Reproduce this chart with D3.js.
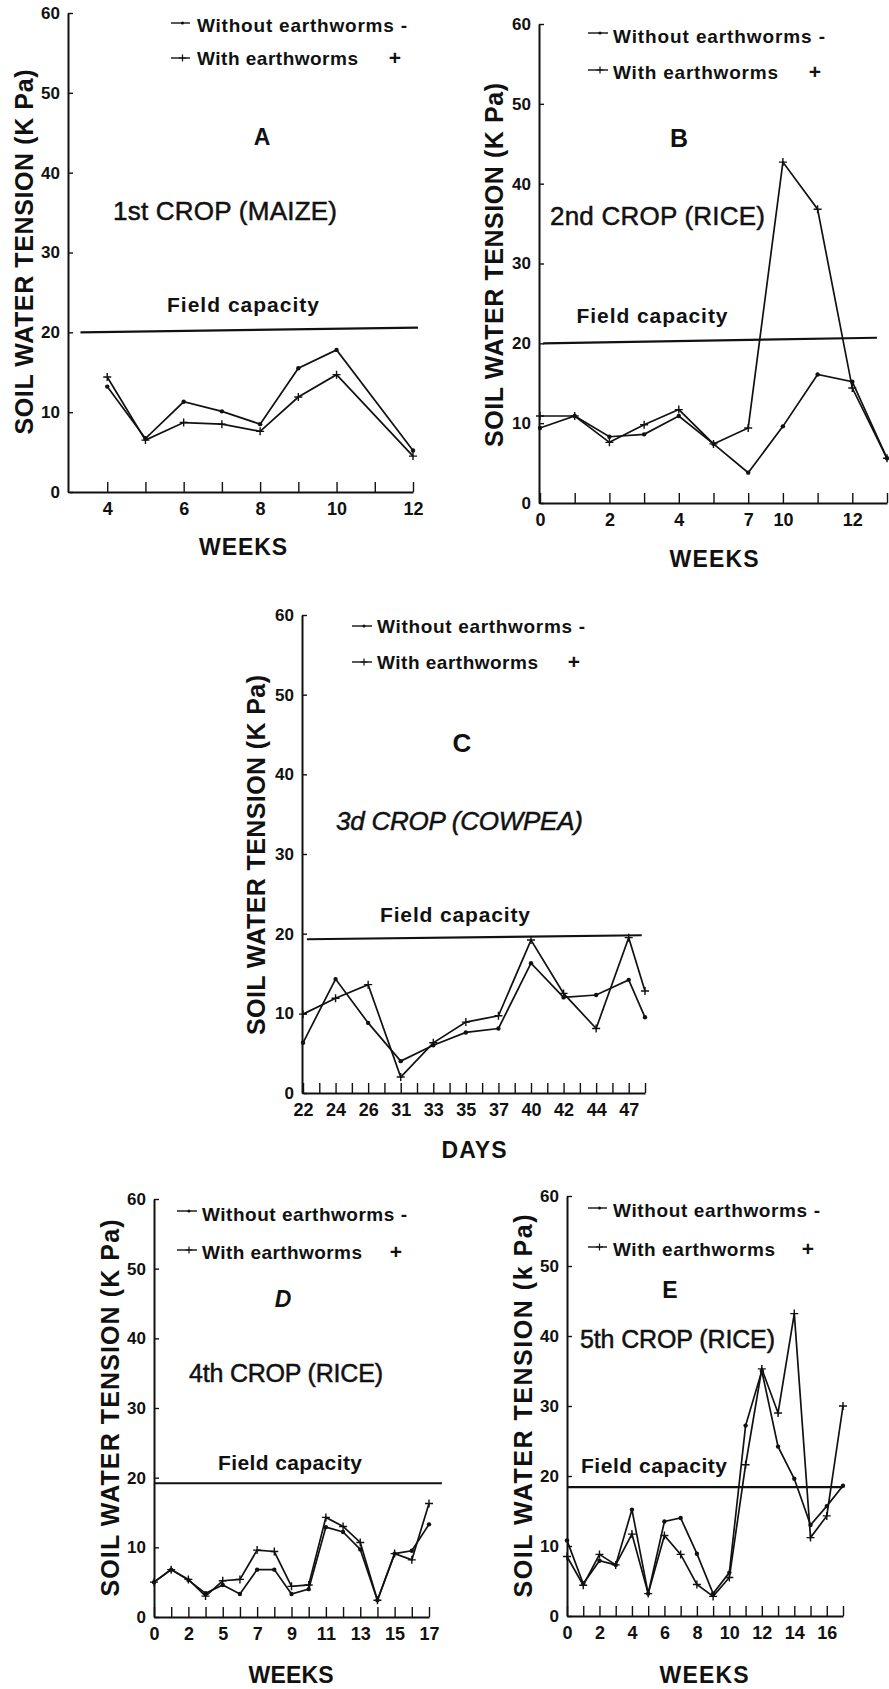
<!DOCTYPE html>
<html>
<head>
<meta charset="utf-8">
<script src="https://cdn.jsdelivr.net/npm/d3@7"></script>
<style>
  html, body { margin: 0; padding: 0; background: #fff; }
  svg { display: block; }
  text { font-family: "Liberation Sans", Arial, Helvetica, sans-serif; fill: #111; }
</style>
</head>
<body>
<svg id="chart" width="889" height="1689"></svg>
<script>
// ---------------- DATA ----------------
const yTicks = [0, 10, 20, 30, 40, 50, 60];

// Panel A – 1st crop (maize), weeks
const weeksA = [4, 5, 6, 7, 8, 9, 10, 12];
const withoutA = [13.2, 6.7, 11.3, 10.1, 8.5, 15.5, 17.8, 5.2];
const withA = [14.4, 6.5, 8.7, 8.5, 7.6, 11.9, 14.7, 4.5];
const ticksA = [4, 5, 6, 7, 8, 9, 10, 11, 12];
const tickLabelsA = ["4", "", "6", "", "8", "", "10", "", "12"];
const fieldCapA = [20.0, 20.6];
const fieldSpanA = [3.3, 12.13];

// Panel B – 2nd crop (rice), weeks (ordinal)
const weeksB = ["0", "1", "2", "3", "4", "5", "7", "10", "11", "12", "13"];
const tickLabelsB = ["0", "", "2", "", "4", "", "7", "10", "", "12", ""];
const withoutB = [9.4, 10.9, 8.3, 8.6, 10.9, 7.4, 3.8, 9.6, 16.1, 15.2, 5.6];
const withB = [10.9, 10.9, 7.6, 9.8, 11.7, 7.4, 9.4, 42.7, 36.8, 14.4, 5.6];
const fieldCapB = [20.0, 20.7];
const fieldSpanB = [0.09, 9.71];

// Panel C – 3d crop (cowpea), days (ordinal slots, last point half a slot on)
const dayLabelsC = ["22", "24", "26", "31", "33", "35", "37", "40", "42", "44", "47"];
const slotsC = [0, 1, 2, 3, 4, 5, 6, 7, 8, 9, 10, 10.5];
const tickSlotsC = [0, 0.5, 1, 1.5, 2, 2.5, 3, 3.5, 4, 4.5, 5, 5.5, 6, 6.5, 7, 7.5, 8, 8.5, 9, 9.5, 10, 10.5];
const withoutC = [6.3, 14.3, 8.8, 4.0, 6.0, 7.6, 8.1, 16.3, 12.0, 12.3, 14.2, 9.5];
const withC = [9.9, 11.9, 13.6, 2.0, 6.3, 8.9, 9.7, 19.2, 12.5, 8.1, 19.5, 12.8];
const fieldCapC = [19.3, 19.8];
const fieldSpanC = [0.12, 10.4];

// Panel D – 4th crop (rice), weeks (ordinal)
const weeksD = ["0", "1", "2", "4", "5", "6", "7", "8", "9", "10", "11", "12", "13", "14", "15", "16", "17"];
const tickLabelsD = ["0", "", "2", "", "5", "", "7", "", "9", "", "11", "", "13", "", "15", "", "17"];
const withoutD = [5.0, 6.8, 5.3, 3.4, 4.6, 3.3, 6.8, 6.8, 3.3, 4.0, 12.9, 12.2, 9.7, 2.4, 9.1, 9.5, 13.3];
const withD = [5.0, 6.8, 5.4, 3.0, 5.2, 5.4, 9.6, 9.4, 4.4, 4.6, 14.3, 13.0, 10.7, 2.4, 9.1, 8.2, 16.3];
const fieldCapD = [19.2, 19.2];
const fieldSpanD = [0, 16.75];

// Panel E – 5th crop (rice), weeks
const weeksE = [0, 1, 2, 3, 4, 5, 6, 7, 8, 9, 10, 11, 12, 13, 14, 15, 16, 17];
const tickLabelsE = ["0", "", "2", "", "4", "", "6", "", "8", "", "10", "", "12", "", "14", "", "16", ""];
const withoutE = [10.8, 4.6, 7.9, 7.3, 15.2, 3.2, 13.5, 14.0, 8.9, 3.2, 6.2, 27.2, 35.0, 24.2, 19.6, 13.0, 15.7, 18.6];
const withE = [8.5, 4.4, 8.8, 7.3, 11.7, 3.2, 11.5, 8.8, 4.5, 2.8, 5.5, 21.6, 35.3, 29.0, 43.2, 11.2, 14.3, 30.0];
const fieldCapE = [18.4, 18.4];
const fieldSpanE = [0, 17];

const legendWithout = "Without earthworms -";
const legendWith = "With earthworms";

// ---------------- LAYOUT ----------------
const idx = arr => arr.map((d, i) => i);

const panels = [
  {
    xs: weeksA, withoutV: withoutA, withV: withA,
    x: d3.scaleLinear().domain([3, 12]).range([69, 413]),
    tickVals: ticksA, tickFmt: (d, i) => tickLabelsA[i],
    yAxisX: 68, yRange: [492, 13],
    fc: fieldCapA, fcSpan: fieldSpanA,
    legend: { l0: 171, l1: 190, ly: [23, 58], tx: 197, tb: [32, 65], len: [210, 161], px: 395 },
    letter: { t: "A", x: 262, y: 145, size: 23, italic: false },
    title: { t: "1st CROP (MAIZE)", x: 113, y: 220, len: 224, size: 26, italic: false },
    fcText: { x: 243, y: 312, len: 152 },
    ylab: { t: "SOIL WATER TENSION (K Pa)", x: 33, y: 252, len: 365 },
    xlab: { t: "WEEKS", x: 243, y: 555, len: 88 }
  },
  {
    xs: idx(weeksB), withoutV: withoutB, withV: withB,
    x: d3.scaleLinear().domain([0, 10]).range([540, 887]),
    tickVals: idx(weeksB), tickFmt: (d, i) => tickLabelsB[i],
    yAxisX: 539, yRange: [503, 24],
    fc: fieldCapB, fcSpan: fieldSpanB,
    legend: { l0: 588, l1: 608, ly: [33, 70], tx: 613, tb: [43, 79], len: [212, 165], px: 815 },
    letter: { t: "B", x: 679, y: 147, size: 25, italic: false },
    title: { t: "2nd CROP (RICE)", x: 550, y: 225, len: 215, size: 26, italic: false },
    fcText: { x: 652, y: 323, len: 151 },
    ylab: { t: "SOIL WATER TENSION (K Pa)", x: 503, y: 265, len: 364 },
    xlab: { t: "WEEKS", x: 714, y: 567, len: 89 }
  },
  {
    xs: slotsC, withoutV: withoutC, withV: withC,
    x: d3.scaleLinear().domain([0, 10.5]).range([303, 645]),
    tickVals: tickSlotsC, tickFmt: d => (Number.isInteger(d) ? dayLabelsC[d] : ""),
    yAxisX: 302, yRange: [1093, 615],
    fc: fieldCapC, fcSpan: fieldSpanC,
    legend: { l0: 352, l1: 372, ly: [626, 662], tx: 377, tb: [633, 669], len: [208, 161], px: 574 },
    letter: { t: "C", x: 462, y: 752, size: 26, italic: false },
    title: { t: "3d CROP (COWPEA)", x: 336, y: 830, len: 247, size: 26, italic: true },
    fcText: { x: 455, y: 922, len: 150 },
    ylab: { t: "SOIL WATER TENSION (K Pa)", x: 265, y: 855, len: 360 },
    xlab: { t: "DAYS", x: 474, y: 1158, len: 65 }
  },
  {
    xs: idx(weeksD), withoutV: withoutD, withV: withD,
    x: d3.scaleLinear().domain([0, 16]).range([154, 429]),
    tickVals: idx(weeksD), tickFmt: (d, i) => tickLabelsD[i],
    yAxisX: 154, yRange: [1617, 1199],
    fc: fieldCapD, fcSpan: fieldSpanD,
    legend: { l0: 177, l1: 197, ly: [1211, 1250], tx: 202, tb: [1221, 1259], len: [205, 160], px: 396 },
    letter: { t: "D", x: 283, y: 1307, size: 23, italic: true },
    title: { t: "4th CROP (RICE)", x: 189, y: 1382, len: 194, size: 25, italic: false },
    fcText: { x: 290, y: 1470, len: 144 },
    ylab: { t: "SOIL WATER TENSION (K Pa)", x: 119, y: 1408, len: 377 },
    xlab: { t: "WEEKS", x: 291, y: 1683, len: 85 }
  },
  {
    xs: weeksE, withoutV: withoutE, withV: withE,
    x: d3.scaleLinear().domain([0, 17]).range([567, 843]),
    tickVals: weeksE, tickFmt: (d, i) => tickLabelsE[i],
    yAxisX: 567, yRange: [1616, 1196],
    fc: fieldCapE, fcSpan: fieldSpanE,
    legend: { l0: 588, l1: 607, ly: [1208, 1247], tx: 613, tb: [1217, 1256], len: [207, 162], px: 808 },
    letter: { t: "E", x: 670, y: 1298, size: 23, italic: false },
    title: { t: "5th CROP (RICE)", x: 580, y: 1348, len: 195, size: 25, italic: false },
    fcText: { x: 654, y: 1473, len: 146 },
    ylab: { t: "SOIL WATER TENSION (k Pa)", x: 532, y: 1406, len: 383 },
    xlab: { t: "WEEKS", x: 704, y: 1683, len: 89 }
  }
];

// ---------------- DRAW ----------------
const svg = d3.select("#chart");
svg.append("rect").attr("width", 889).attr("height", 1689).attr("fill", "#fff");
const INK = "#111";
const plusPath = s => `M${-s},0H${s}M0,${-s}V${s}`;

function drawPanel(p) {
  const g = svg.append("g");
  const x = p.x;
  const y = d3.scaleLinear().domain([0, 60]).range(p.yRange);

  // x axis (ticks pointing inward)
  const gx = g.append("g")
    .attr("transform", `translate(0,${p.yRange[0]})`)
    .call(d3.axisBottom(x).tickValues(p.tickVals).tickFormat(p.tickFmt)
      .tickSizeInner(-10).tickSizeOuter(0).tickPadding(10));
  gx.select(".domain").attr("stroke", INK).attr("stroke-width", 2);
  gx.selectAll(".tick line").attr("stroke", INK).attr("stroke-width", 1.4);
  gx.selectAll(".tick text").attr("font-size", 18).attr("font-weight", "bold")
    .attr("font-family", '"Liberation Sans", Arial, sans-serif').attr("fill", INK);

  // y axis
  const gy = g.append("g")
    .attr("transform", `translate(${p.yAxisX},0)`)
    .call(d3.axisLeft(y).tickValues(yTicks).tickSizeInner(-5).tickSizeOuter(0).tickPadding(8));
  gy.select(".domain").attr("stroke", INK).attr("stroke-width", 2);
  gy.selectAll(".tick line").attr("stroke", INK).attr("stroke-width", 1.4);
  gy.selectAll(".tick text").attr("font-size", 17).attr("font-weight", "bold")
    .attr("font-family", '"Liberation Sans", Arial, sans-serif').attr("fill", INK);

  // field capacity line
  g.append("line")
    .attr("x1", x(p.fcSpan[0])).attr("x2", x(p.fcSpan[1]))
    .attr("y1", y(p.fc[0])).attr("y2", y(p.fc[1]))
    .attr("stroke", INK).attr("stroke-width", 2.2);

  // series
  const line = d3.line().x((d, i) => x(p.xs[i])).y(d => y(d));
  [p.withoutV, p.withV].forEach((vals, k) => {
    g.append("path").datum(vals).attr("d", line)
      .attr("fill", "none").attr("stroke", INK).attr("stroke-width", 1.7)
      .attr("stroke-linejoin", "miter");
    const pts = g.append("g").selectAll("g").data(vals).join("g")
      .attr("transform", (d, i) => `translate(${x(p.xs[i])},${y(d)})`);
    if (k === 0) {
      pts.append("circle").attr("r", 2.2).attr("fill", INK);
    } else {
      pts.append("path").attr("d", plusPath(4)).attr("stroke", INK).attr("stroke-width", 1.4);
    }
  });

  // legend
  const L = p.legend;
  [0, 1].forEach(k => {
    g.append("line").attr("x1", L.l0).attr("x2", L.l1).attr("y1", L.ly[k]).attr("y2", L.ly[k])
      .attr("stroke", INK).attr("stroke-width", 1.4);
    const mx = (L.l0 + L.l1) / 2 + 2;
    if (k === 0) {
      g.append("circle").attr("cx", mx).attr("cy", L.ly[k]).attr("r", 1.6).attr("fill", INK);
    } else {
      g.append("path").attr("transform", `translate(${mx},${L.ly[k]})`).attr("d", plusPath(3.5))
        .attr("stroke", INK).attr("stroke-width", 1.2);
    }
    g.append("text").attr("x", L.tx).attr("y", L.tb[k])
      .attr("font-size", 19).attr("font-weight", "bold")
      .attr("textLength", L.len[k]).attr("lengthAdjust", "spacing")
      .text(k === 0 ? legendWithout : legendWith);
  });
  g.append("text").attr("x", L.px).attr("y", L.tb[1]).attr("text-anchor", "middle")
    .attr("font-size", 21).attr("font-weight", "bold").text("+");

  // panel letter
  g.append("text").attr("x", p.letter.x).attr("y", p.letter.y).attr("text-anchor", "middle")
    .attr("font-size", p.letter.size).attr("font-weight", "bold")
    .attr("font-style", p.letter.italic ? "italic" : "normal").text(p.letter.t);

  // crop title
  g.append("text").attr("x", p.title.x).attr("y", p.title.y)
    .attr("font-size", p.title.size).attr("font-style", p.title.italic ? "italic" : "normal")
    .attr("stroke", INK).attr("stroke-width", 0.5)
    .attr("textLength", p.title.len).attr("lengthAdjust", "spacing").text(p.title.t);

  // field capacity label
  g.append("text").attr("x", p.fcText.x).attr("y", p.fcText.y).attr("text-anchor", "middle")
    .attr("font-size", 21).attr("font-weight", "bold")
    .attr("textLength", p.fcText.len).attr("lengthAdjust", "spacing").text("Field capacity");

  // y axis title
  g.append("text").attr("transform", `translate(${p.ylab.x},${p.ylab.y}) rotate(-90)`)
    .attr("text-anchor", "middle").attr("font-size", 25).attr("font-weight", "bold")
    .attr("textLength", p.ylab.len).attr("lengthAdjust", "spacing").text(p.ylab.t);

  // x axis title
  g.append("text").attr("x", p.xlab.x).attr("y", p.xlab.y).attr("text-anchor", "middle")
    .attr("font-size", 23).attr("font-weight", "bold")
    .attr("textLength", p.xlab.len).attr("lengthAdjust", "spacing").text(p.xlab.t);
}

panels.forEach(drawPanel);
</script>
</body>
</html>
